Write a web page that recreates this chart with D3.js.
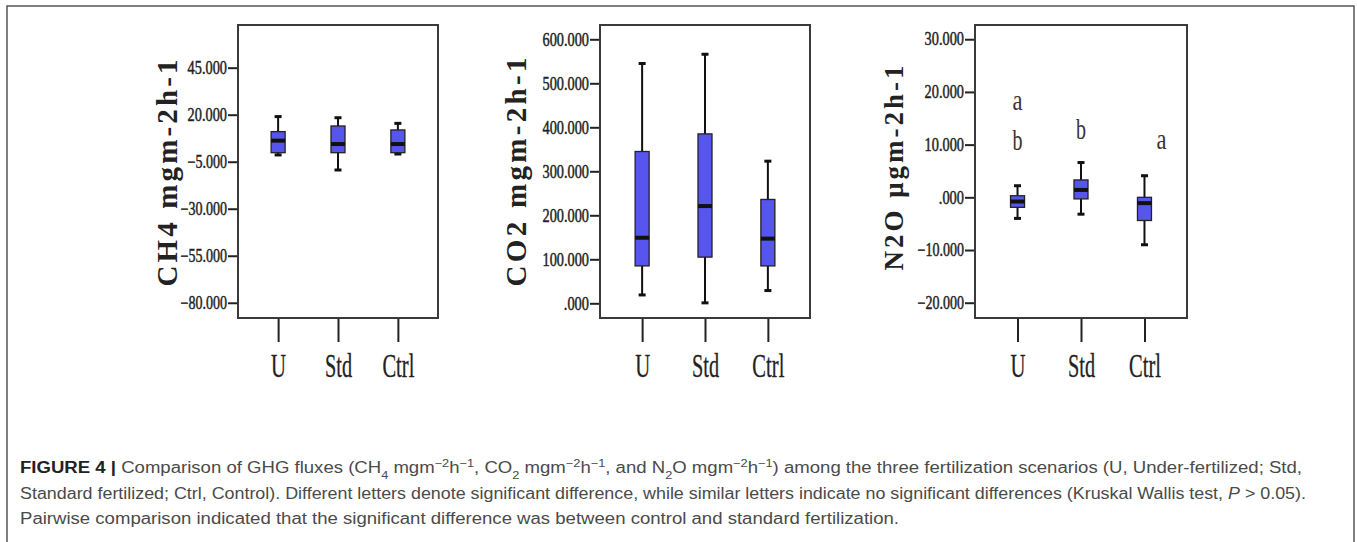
<!DOCTYPE html>
<html>
<head>
<meta charset="utf-8">
<script src="https://cdn.jsdelivr.net/npm/d3@7"></script>
<style>
  body { margin: 0; background: #fff; }
  svg { display: block; }
</style>
</head>
<body>
<div id="chart"></div>
<script>
// categories on the x axis of every panel
var categories = ["U", "Std", "Ctrl"];

// box stats per category: [min, q1, median, q3, max]
var ch4_boxes = [
  [-1.4, -0.2, 6.2, 11.0, 19.0],
  [-9.4, -0.2, 4.4, 14.0, 18.4],
  [-0.9, -0.2, 4.4, 11.9, 15.4]
];
var co2_boxes = [
  [19, 85, 149, 345, 545],
  [1, 105, 221, 385, 566],
  [29, 85, 147, 236, 323]
];
var n2o_boxes = [
  [-4.0, -1.9, -0.8, 0.3, 2.2],
  [-3.2, -0.3, 1.4, 3.3, 6.6],
  [-9.0, -4.4, -1.1, 0.0, 4.1]
];

// y ticks
var ch4_ticks = [45, 20, -5, -30, -55, -80];
var co2_ticks = [600, 500, 400, 300, 200, 100, 0];
var n2o_ticks = [30, 20, 10, 0, -10, -20];

// axis titles
var ch4_title = "CH4 mgm-2h-1";
var co2_title = "CO2 mgm-2h-1";
var n2o_title = "N2O \u03bcgm-2h-1";

// significance letters on the N2O panel (category, letter, value)
var n2o_letters = [
  ["U", "a", 18.1],
  ["U", "b", 10.5],
  ["Std", "b", 12.6],
  ["Ctrl", "a", 10.7]
];

var W = 1357, H = 542;
var boxFill = "#5656ee";
var frameTop = 25, frameBottom = 318;

var svg = d3.select("#chart").append("svg")
  .attr("width", W)
  .attr("height", H);

svg.append("rect").attr("width", W).attr("height", H).attr("fill", "#fff");

// outer figure border
svg.append("rect")
  .attr("x", 7).attr("y", 6)
  .attr("width", 1347).attr("height", 560)
  .attr("fill", "none")
  .attr("stroke", "#555")
  .attr("stroke-width", 1.5);

// squeeze serif text to look like the narrow SPSS font
function squeeze(sel, perChar) {
  sel.each(function() {
    var t = this.textContent;
    var w = 0;
    for (var i = 0; i < t.length; i++) w += (t[i] == "." ? perChar * 0.55 : perChar);
    d3.select(this).attr("textLength", w).attr("lengthAdjust", "spacingAndGlyphs");
  });
}

function tickFmt(v) {
  return d3.format(".3f")(v).replace(/^(-?)0\./, "$1.");
}

function drawPanel(opt) {
  var g = svg.append("g");

  var x = d3.scalePoint()
    .domain(categories)
    .range([opt.x0, opt.x1])
    .padding(0.67);

  var y = d3.scaleLinear()
    .domain(opt.domain)
    .range([frameBottom, frameTop]);

  // y axis
  var yAxis = g.append("g")
    .attr("transform", "translate(" + opt.x0 + ",0)")
    .call(d3.axisLeft(y).tickValues(opt.ticks).tickFormat(tickFmt).tickSize(10).tickPadding(1));
  yAxis.select(".domain").remove();
  yAxis.selectAll("line").attr("stroke", "#222").attr("stroke-width", 2);
  yAxis.selectAll("text")
    .attr("fill", "#222")
    .attr("stroke", "#222")
    .attr("stroke-width", 0.45)
    .style("font-family", "'Liberation Serif', 'Times New Roman', serif")
    .style("font-size", "18px")
    .call(squeeze, 7.1);

  // x axis
  var xAxis = g.append("g")
    .attr("transform", "translate(0," + frameBottom + ")")
    .call(d3.axisBottom(x).tickSize(24).tickPadding(11));
  xAxis.select(".domain").remove();
  xAxis.selectAll("line").attr("stroke", "#222").attr("stroke-width", 2);
  xAxis.selectAll("text")
    .attr("fill", "#222")
    .attr("stroke", "#222")
    .attr("stroke-width", 0.3)
    .style("font-family", "'Liberation Serif', 'Times New Roman', serif")
    .style("font-size", "34px")
    .each(function(d) {
      var w = {"U": 15, "Std": 27, "Ctrl": 32}[d];
      d3.select(this).attr("textLength", w).attr("lengthAdjust", "spacingAndGlyphs");
    });

  // frame
  g.append("rect")
    .attr("x", opt.x0).attr("y", frameTop)
    .attr("width", opt.x1 - opt.x0).attr("height", frameBottom - frameTop)
    .attr("fill", "none")
    .attr("stroke", "#3a3a3a")
    .attr("stroke-width", 2);

  // title
  g.append("text")
    .attr("transform", "translate(" + opt.titleX + "," + opt.titleY + ") rotate(-90)")
    .attr("text-anchor", "middle")
    .attr("fill", "#222")
    .style("font-family", "'Liberation Serif', 'Times New Roman', serif")
    .style("font-weight", "bold")
    .style("font-size", opt.titleSize + "px")
    .attr("textLength", opt.titleLen)
    .attr("lengthAdjust", "spacing")
    .text(opt.title);

  var bw = 14;
  var boxes = g.selectAll(".box")
    .data(opt.boxes)
    .enter().append("g")
    .attr("class", "box")
    .attr("transform", function(d, i) { return "translate(" + x(categories[i]) + ",0)"; });

  // whiskers
  boxes.append("line")
    .attr("x1", 0).attr("x2", 0)
    .attr("y1", function(d) { return y(d[4]); })
    .attr("y2", function(d) { return y(d[3]); })
    .attr("stroke", "#111").attr("stroke-width", 2);
  boxes.append("line")
    .attr("x1", 0).attr("x2", 0)
    .attr("y1", function(d) { return y(d[1]); })
    .attr("y2", function(d) { return y(d[0]); })
    .attr("stroke", "#111").attr("stroke-width", 2);
  // caps
  boxes.selectAll(".cap")
    .data(function(d) { return [d[0], d[4]]; })
    .enter().append("line")
    .attr("class", "cap")
    .attr("x1", -3.5).attr("x2", 3.5)
    .attr("y1", function(v) { return y(v); })
    .attr("y2", function(v) { return y(v); })
    .attr("stroke", "#111").attr("stroke-width", 3);

  // box
  boxes.append("rect")
    .attr("x", -bw / 2)
    .attr("width", bw)
    .attr("y", function(d) { return y(d[3]); })
    .attr("height", function(d) { return y(d[1]) - y(d[3]); })
    .attr("fill", boxFill)
    .attr("stroke", "#222")
    .attr("stroke-width", 1.3);

  // median
  boxes.append("line")
    .attr("x1", -bw / 2).attr("x2", bw / 2)
    .attr("y1", function(d) { return y(d[2]); })
    .attr("y2", function(d) { return y(d[2]); })
    .attr("stroke", "#111").attr("stroke-width", 4);

  if (opt.letters) {
    g.selectAll(".letter")
      .data(opt.letters)
      .enter().append("text")
      .attr("class", "letter")
      .attr("x", function(d) { return x(d[0]) + (d[0] == "Ctrl" ? 17 : 0); })
      .attr("y", function(d) { return y(d[2]) + 8; })
      .attr("text-anchor", "middle")
      .attr("fill", "#333")
      .style("font-family", "'Liberation Serif', 'Times New Roman', serif")
      .style("font-size", "30px")
      .attr("textLength", 10)
      .attr("lengthAdjust", "spacingAndGlyphs")
      .text(function(d) { return d[1]; });
  }
}

drawPanel({
  x0: 238, x1: 438, domain: [-88.1, 67.7], ticks: ch4_ticks, boxes: ch4_boxes,
  title: ch4_title, titleX: 177, titleY: 173, titleSize: 29, titleLen: 227
});
drawPanel({
  x0: 600, x1: 810, domain: [-33.4, 632.5], ticks: co2_ticks, boxes: co2_boxes,
  title: co2_title, titleX: 526, titleY: 172, titleSize: 29, titleLen: 229
});
drawPanel({
  x0: 975, x1: 1187, domain: [-22.9, 32.7], ticks: n2o_ticks, boxes: n2o_boxes,
  title: n2o_title, titleX: 903, titleY: 168, titleSize: 27, titleLen: 205,
  letters: n2o_letters
});

// caption
var caption = [
  [["b", "FIGURE 4 | "], ["n", "Comparison of GHG fluxes (CH"], ["sub", "4"], ["n", " mgm"], ["sup", "\u22122"], ["n", "h"], ["sup", "\u22121"],
   ["n", ", CO"], ["sub", "2"], ["n", " mgm"], ["sup", "\u22122"], ["n", "h"], ["sup", "\u22121"],
   ["n", ", and N"], ["sub", "2"], ["n", "O mgm"], ["sup", "\u22122"], ["n", "h"], ["sup", "\u22121"],
   ["n", ") among the three fertilization scenarios (U, Under-fertilized; Std,"]],
  [["n", "Standard fertilized; Ctrl, Control). Different letters denote significant difference, while similar letters indicate no significant differences (Kruskal Wallis test, "],
   ["i", "P"], ["n", " > 0.05)."]],
  [["n", "Pairwise comparison indicated that the significant difference was between control and standard fertilization."]]
];
var captionY = [473, 499, 524];
var captionEnd = [1302, 1306];

var capG = svg.append("g");
var ratio = 1;
caption.forEach(function(line, li) {
  var t = capG.append("text")
    .attr("x", 20)
    .attr("y", captionY[li])
    .attr("fill", "#4a4a4a")
    .style("font-family", "'Liberation Sans Narrow', 'Arial Narrow', 'Liberation Sans', Arial, sans-serif")
    .style("font-size", "16px");
  line.forEach(function(seg) {
    var s = t.append("tspan").text(seg[1]);
    if (seg[0] == "b") s.style("font-weight", "bold").attr("fill", "#222");
    if (seg[0] == "i") s.style("font-style", "italic");
    if (seg[0] == "sub") s.attr("baseline-shift", "sub").style("font-size", "11px");
    if (seg[0] == "sup") s.attr("baseline-shift", "super").style("font-size", "11px");
  });
  var natural = t.node().getComputedTextLength();
  if (li < 2) {
    var target = captionEnd[li] - 20;
    if (li == 0) ratio = target / natural;
    t.attr("textLength", target).attr("lengthAdjust", "spacingAndGlyphs");
  } else {
    t.attr("textLength", natural * ratio).attr("lengthAdjust", "spacingAndGlyphs");
  }
});
</script>
</body>
</html>
